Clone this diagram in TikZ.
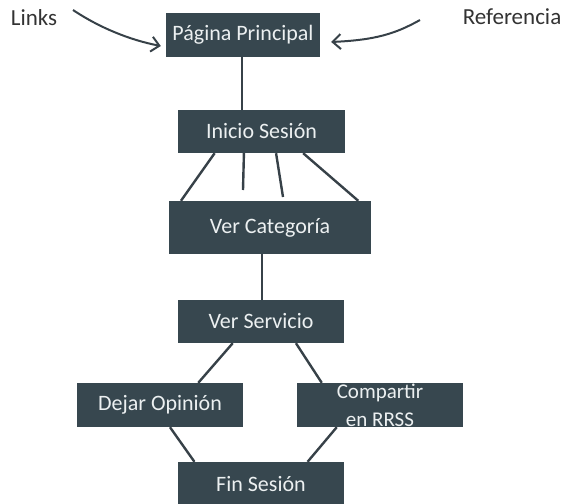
\documentclass[tikz,border=0pt]{standalone}
\usepackage{fontspec}
\setmainfont{Carlito}
\usetikzlibrary{arrows.meta,calc}
\definecolor{boxc}{RGB}{55,71,79}
\definecolor{txtc}{RGB}{236,240,241}
\definecolor{linec}{RGB}{55,65,72}
\begin{document}
\begin{tikzpicture}[x=1pt,y=-1pt,
  box/.style={fill=boxc,draw=none,text=txtc,font=\fontsize{22}{23}\selectfont,inner sep=0pt,anchor=center},
  conn/.style={draw=linec,line width=2.4pt},
  arr/.style={draw=linec,line width=2pt,-{Straight Barb[length=8pt,width=15pt,line width=2pt]}},
  lbl/.style={text=black!80,font=\fontsize{23}{24}\selectfont,inner sep=0pt}]
\useasboundingbox (0,0) rectangle (564,503);
\node[box,minimum width=154pt,minimum height=44pt] (pp) at (243,35) {Página Principal};
\node[box,minimum width=167pt,minimum height=43pt] (ini) at (261.5,131.5) {Inicio Sesión};
\node[box,minimum width=202pt,minimum height=53pt] (cat) at (270,227.5) {Ver Categoría};
\node[box,minimum width=166pt,minimum height=43pt] (serv) at (261,321.5) {Ver Servicio};
\node[box,minimum width=166pt,minimum height=44pt] (dej) at (160,405) {Dejar Opinión};
\node[box,minimum width=166pt,minimum height=44pt,align=center,font=\fontsize{21}{23}\selectfont] (comp) at (380,405) {\raisebox{5pt}{Compartir}\\en RRSS};
\node[box,minimum width=166pt,minimum height=44pt] (fin) at (261,484) {Fin Sesión};
\node[lbl] (links) at (34,18) {Links};
\node[lbl] (ref) at (512,17) {Referencia};
\coordinate (lk) at (73,10);
\coordinate (rf) at (420,20);
\coordinate (d2) at (243,190);
\coordinate (d3) at (283,197);
% arrows
\draw[arr] (lk) .. controls (100,28) and (130,40) .. ($(pp.west)+(-5,11)$);
\draw[arr] (rf) .. controls (395,34) and (375,40) .. ($(pp.east)+(11,7)$);
% connectors
\draw[conn] (pp.south -| 242,0) -- (ini.north -| 242,0);
\draw[conn] ($(ini.south west)!0.22!(ini.south east)$) -- ($(cat.north west)!0.06!(cat.north east)$);
\draw[conn] ($(ini.south west)!0.395!(ini.south east)$) -- (d2);
\draw[conn] ($(ini.south west)!0.587!(ini.south east)$) -- (d3);
\draw[conn] ($(ini.south west)!0.749!(ini.south east)$) -- ($(cat.north west)!0.936!(cat.north east)$);
\draw[conn] (cat.south -| 262,0) -- (serv.north -| 262,0);
\draw[conn] ($(serv.south west)!0.33!(serv.south east)$) -- ($(dej.north west)!0.73!(dej.north east)$);
\draw[conn] ($(serv.south west)!0.71!(serv.south east)$) -- ($(comp.north west)!0.15!(comp.north east)$);
\draw[conn] ($(dej.south west)!0.56!(dej.south east)$) -- ($(fin.north west)!0.10!(fin.north east)$);
\draw[conn] ($(comp.south west)!0.24!(comp.south east)$) -- ($(fin.north west)!0.78!(fin.north east)$);
\end{tikzpicture}
\end{document}
